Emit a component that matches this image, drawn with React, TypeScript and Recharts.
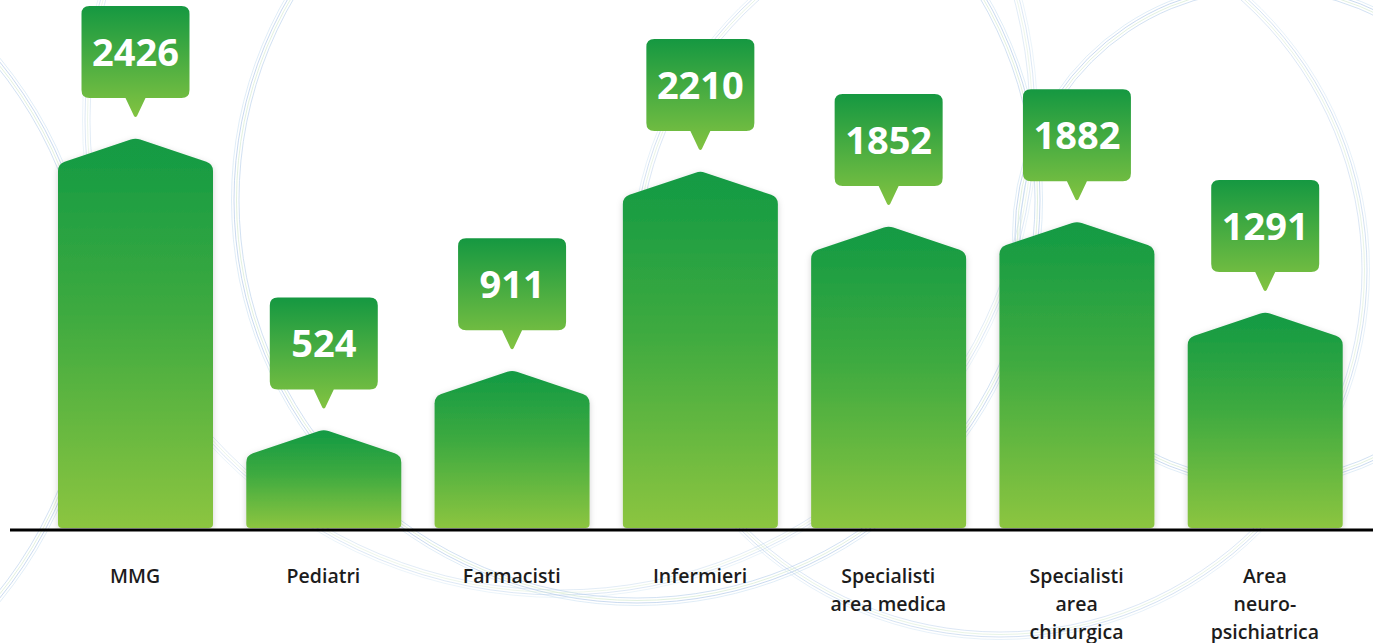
import React from 'react';
import { BarChart, Bar, XAxis, YAxis, LabelList } from 'recharts';

const categories = [
  'MMG',
  'Pediatri',
  'Farmacisti',
  'Infermieri',
  'Specialisti area medica',
  'Specialisti area chirurgica',
  'Area neuro-psichiatrica',
];
const tickLines = [
  ['MMG'],
  ['Pediatri'],
  ['Farmacisti'],
  ['Infermieri'],
  ['Specialisti', 'area medica'],
  ['Specialisti', 'area', 'chirurgica'],
  ['Area', 'neuro-', 'psichiatrica'],
];
const values = [2426, 524, 911, 2210, 1852, 1882, 1291];
const yDomain = [-132, 3000];

const data = categories.map((name, i) => ({ name, value: values[i] }));

const W = 1373;
const H = 643;
const FONT = '"Open Sans", "DejaVu Sans", sans-serif';

const HouseBar = (props: any) => {
  const { x, y, width, height, background } = props;
  if (width == null || y == null) return null;
  const bottom = background ? background.y + background.height - 2 : y + height;
  const cx = x + width / 2;
  const roof = 26;
  const half = width / 2;
  const len = Math.sqrt(half * half + roof * roof);
  const ux = half / len;
  const uy = roof / len;
  const r = 7;
  const ra = 5;
  const rb = 4;
  const d = [
    `M ${x} ${bottom - rb}`,
    `Q ${x} ${bottom} ${x + rb} ${bottom}`,
    `L ${x + width - rb} ${bottom}`,
    `Q ${x + width} ${bottom} ${x + width} ${bottom - rb}`,
    `L ${x + width} ${y + roof + r}`,
    `Q ${x + width} ${y + roof} ${x + width - ux * r} ${y + roof - uy * r}`,
    `L ${cx + ux * ra} ${y + uy * ra}`,
    `Q ${cx} ${y} ${cx - ux * ra} ${y + uy * ra}`,
    `L ${x + ux * r} ${y + roof - uy * r}`,
    `Q ${x} ${y + roof} ${x} ${y + roof + r}`,
    'Z',
  ].join(' ');
  return <path d={d} fill="url(#barGrad)" filter="url(#barShadow)" />;
};

const ValueBubble = (props: any) => {
  const { x, y, width, value } = props;
  if (x == null || y == null) return null;
  const cx = x + width / 2;
  const bw = 108;
  const bh = 92;
  const tip = y - 20;
  const bBottom = y - 40;
  const top = bBottom - bh;
  const l = cx - bw / 2;
  const rr = cx + bw / 2;
  const r = 8;
  const pw = 10;
  const d = [
    `M ${l + r} ${top}`,
    `L ${rr - r} ${top}`,
    `Q ${rr} ${top} ${rr} ${top + r}`,
    `L ${rr} ${bBottom - r}`,
    `Q ${rr} ${bBottom} ${rr - r} ${bBottom}`,
    `L ${cx + pw} ${bBottom}`,
    `L ${cx + 1.5} ${tip - 2}`,
    `Q ${cx} ${tip} ${cx - 1.5} ${tip - 2}`,
    `L ${cx - pw} ${bBottom}`,
    `L ${l + r} ${bBottom}`,
    `Q ${l} ${bBottom} ${l} ${bBottom - r}`,
    `L ${l} ${top + r}`,
    `Q ${l} ${top} ${l + r} ${top}`,
    'Z',
  ].join(' ');
  return (
    <g>
      <path d={d} fill="url(#bubbleGrad)" />
      <text
        x={cx}
        y={top + 60}
        textAnchor="middle"
        fill="#ffffff"
        fontFamily={FONT}
        fontWeight={700}
        fontSize={38}
      >
        {value}
      </text>
    </g>
  );
};

const CategoryTick = (props: any) => {
  const { x, y, payload } = props;
  const idx = payload.index;
  const lines = tickLines[idx] || [payload.value];
  return (
    <text
      x={x}
      y={y + 53}
      textAnchor="middle"
      fill="#1c1c1c"
      fontFamily={FONT}
      fontWeight={600}
      fontSize={19.5}
    >
      {lines.map((ln, i) => (
        <tspan key={i} x={x} dy={i === 0 ? 0 : 28}>
          {ln}
        </tspan>
      ))}
    </text>
  );
};

const ringColors = ['#bfd4ec', '#d6ebd2', '#b3cbe8', '#d3e6f4'];

const Ring = ({ cx, cy, r, o = 0.7 }: { cx: number; cy: number; r: number; o?: number }) => (
  <g>
    {ringColors.map((c, i) => (
      <circle key={i} cx={cx} cy={cy} r={r + i * 2.5} fill="none" stroke={c} strokeWidth={1} strokeOpacity={o} />
    ))}
  </g>
);

export default function App() {
  return (
    <div style={{ position: 'absolute', left: 0, top: 0, width: W, height: H, background: '#ffffff' }}>
      <svg width={W} height={H} style={{ position: 'absolute', left: 0, top: 0 }}>
        <Ring cx={637} cy={200} r={398} />
        <Ring cx={1265} cy={235} r={245} />
        <Ring cx={1000} cy={270} r={362} o={0.55} />
        <Ring cx={-330} cy={330} r={420} />
        <Ring cx={560} cy={120} r={470} o={0.45} />
      </svg>
      <div style={{ position: 'absolute', left: 0, top: 0 }}>
        <BarChart
          width={W}
          height={H}
          data={data}
          margin={{ top: 50, right: 0, bottom: 0, left: 10 }}
          barSize={155}
        >
          <defs>
            <linearGradient id="barGrad" x1="0" y1="0" x2="0" y2="1">
              <stop offset="0%" stopColor="#129a44" />
              <stop offset="45%" stopColor="#3eaa40" />
              <stop offset="100%" stopColor="#8cc540" />
            </linearGradient>
            <linearGradient id="bubbleGrad" x1="0" y1="0" x2="0" y2="1">
              <stop offset="0%" stopColor="#159841" />
              <stop offset="100%" stopColor="#82c341" />
            </linearGradient>
            <filter id="barShadow" x="-10%" y="-10%" width="120%" height="120%">
              <feDropShadow dx="0" dy="2" stdDeviation="3" floodColor="#000000" floodOpacity="0.18" />
            </filter>
          </defs>
          <YAxis hide type="number" domain={yDomain} allowDataOverflow />
          <XAxis
            dataKey="name"
            interval={0}
            height={113}
            tickLine={false}
            tickSize={0}
            tickMargin={0}
            axisLine={{ stroke: '#000000', strokeWidth: 3 }}
            padding={{ left: 31, right: 14 }}
            tick={<CategoryTick />}
          />
          <Bar
            dataKey="value"
            isAnimationActive={false}
            shape={<HouseBar />}
            background={{ fill: 'transparent' }}
          >
            <LabelList dataKey="value" content={<ValueBubble />} />
          </Bar>
        </BarChart>
      </div>
    </div>
  );
}
